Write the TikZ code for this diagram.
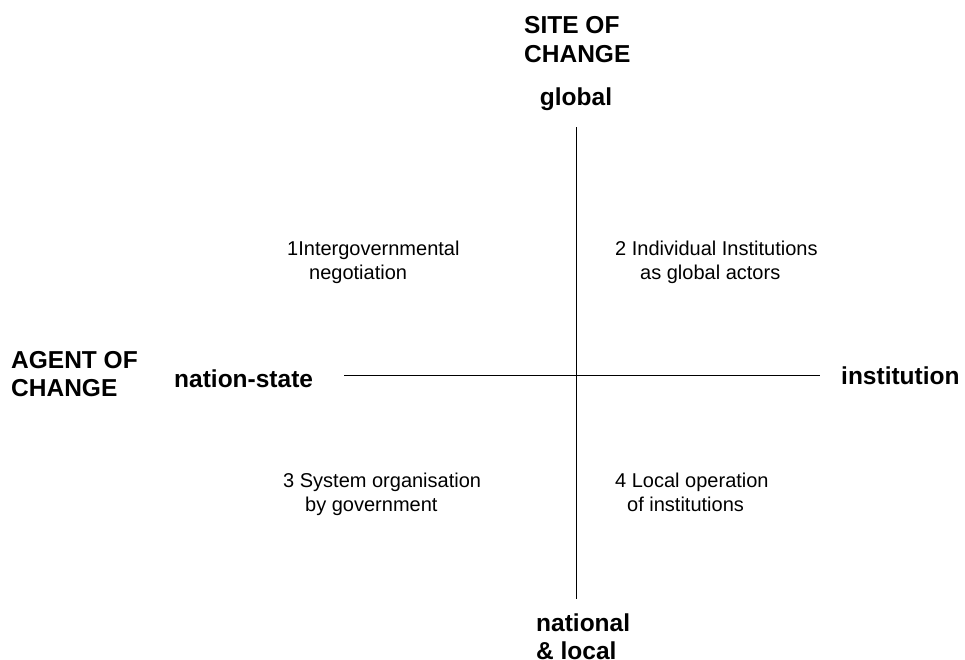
\documentclass[tikz,border=0pt]{standalone}
\usepackage{fontspec}
\setmainfont{Liberation Sans}
\begin{document}
\begin{tikzpicture}[x=1pt,y=-1pt,
  hdr/.style={inner sep=0pt,anchor=base west,font=\fontsize{24.5}{28}\selectfont\bfseries},
  hdrc/.style={inner sep=0pt,anchor=base,font=\fontsize{24.5}{28}\selectfont\bfseries},
  quad/.style={inner sep=0pt,anchor=base west,font=\fontsize{20}{24}\selectfont},
  axis/.style={line width=1.5pt,black}]
\useasboundingbox[fill=white] (0,0) rectangle (965,659);
% axes
\coordinate (top) at (576.5,127);
\coordinate (bot) at (576.5,599);
\coordinate (lft) at (344,375.5);
\coordinate (rgt) at (820,375.5);
\draw[axis] (top) -- (bot);
\draw[axis] (lft) -- (rgt);
% headers
\node[hdr] (site1) at (524,33) {SITE OF};
\node[hdr] (site2) at (524,62) {CHANGE};
\node[hdrc] (global) at (576,105) {global};
\node[hdr] (agent1) at (11,368) {AGENT OF};
\node[hdr] (agent2) at (11,396) {CHANGE};
\node[hdr] (nation) at (174,387) {nation-state};
\node[hdr] (inst) at (841,384) {institution};
\node[hdr] (natl1) at (536,631) {national};
\node[hdr] (natl2) at (536,659) {\& local};
% quadrants
\node[quad] (q1a) at (287,255) {1Intergovernmental};
\node[quad] (q1b) at (309,279) {negotiation};
\node[quad] (q2a) at (615,255) {2 Individual Institutions};
\node[quad] (q2b) at (640,279) {as global actors};
\node[quad] (q3a) at (283,487) {3 System organisation};
\node[quad] (q3b) at (305,511) {by government};
\node[quad] (q4a) at (615,487) {4 Local operation};
\node[quad] (q4b) at (627,511) {of institutions};
\end{tikzpicture}
\end{document}
